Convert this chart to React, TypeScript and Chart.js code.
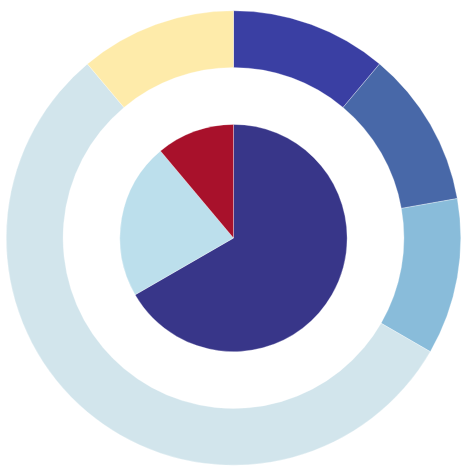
import React, { useEffect, useRef } from "react";
import { Chart, registerables } from "chart.js";

Chart.register(...registerables);

const outerLabels = ["A1", "A2", "A3", "A4", "A5"];
const outerValues = [1, 1, 1, 5, 1];
const outerColors = ["#3a3fa3", "#4868a8", "#89bcda", "#d2e5ec", "#feebaa"];

const innerLabels = ["B1", "B2", "B3"];
const innerValues = [6, 2, 1];
const innerColors = ["#383689", "#bcdfec", "#a8112b"];

export default function App() {
  const ref = useRef<HTMLCanvasElement>(null);
  useEffect(() => {
    document.body.style.margin = "0";
    const ctx = ref.current!;
    const chart = new Chart(ctx, {
      type: "doughnut",
      data: {
        labels: outerLabels,
        datasets: [
          {
            data: outerValues,
            backgroundColor: outerColors,
            borderColor: "rgba(255,255,255,0.6)",
            borderWidth: 0.5,
            weight: 1,
          },
          {
            data: [1],
            backgroundColor: ["rgba(0,0,0,0)"],
            borderWidth: 0,
            weight: 1,
          },
          {
            data: innerValues,
            backgroundColor: innerColors,
            borderColor: "rgba(255,255,255,0.6)",
            borderWidth: 0.5,
            weight: 2,
          },
        ],
      },
      options: {
        responsive: false,
        animation: false,
        cutout: 0,
        layout: { padding: { left: 6, right: 8, top: 10, bottom: 5 } },
        plugins: {
          legend: { display: false },
          tooltip: { enabled: false },
        },
      },
    });
    return () => chart.destroy();
  }, []);
  return (
    <canvas
      ref={ref}
      width={469}
      height={471}
      style={{ display: "block", width: 469, height: 471 }}
    />
  );
}
